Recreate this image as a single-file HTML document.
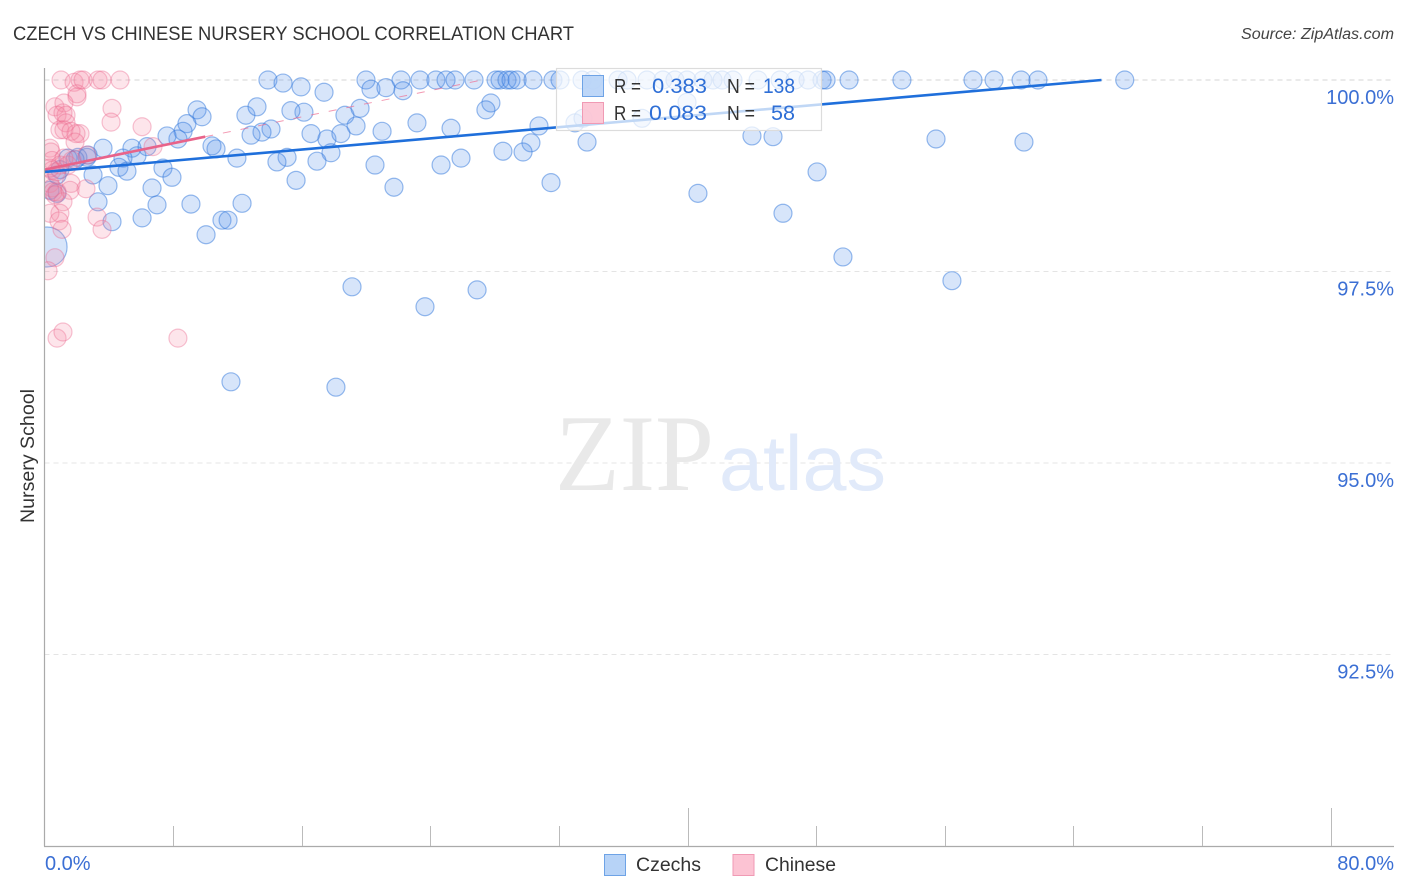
<!DOCTYPE html>
<html lang="en">
<head>
<meta charset="utf-8">
<title>Czech vs Chinese Nursery School Correlation Chart</title>
<style>
html,body{margin:0;padding:0;background:#fff;}
svg{display:block;font-family:"Liberation Sans",sans-serif;}
</style>
</head>
<body>
<svg id="chart" width="1406" height="892" viewBox="0 0 1406 892" xmlns="http://www.w3.org/2000/svg">
  <defs>
    <clipPath id="plot-clip"><rect x="44.5" y="66" width="1350" height="780"/></clipPath>
  </defs>
  <text x="13" y="40" font-size="19.5" fill="#333" textLength="561" lengthAdjust="spacingAndGlyphs">CZECH VS CHINESE NURSERY SCHOOL CORRELATION CHART</text>
  <text x="1241" y="39" font-size="15.5" font-style="italic" fill="#444" textLength="153" lengthAdjust="spacingAndGlyphs">Source: ZipAtlas.com</text>
  <g id="grid"></g>
  <g>
    <text x="555" y="490" font-family="'Liberation Serif',serif" font-size="109" fill="#e9e9e9" textLength="159" lengthAdjust="spacingAndGlyphs">ZIP</text>
    <text x="719" y="490" font-size="78" fill="#e1eafa" textLength="167" lengthAdjust="spacingAndGlyphs">atlas</text>
  </g>
  <g id="points" clip-path="url(#plot-clip)"></g>
  <g id="trends"></g>
  <g id="axes"></g>
  <text transform="translate(34,456) rotate(-90)" font-size="19" fill="#333" text-anchor="middle" textLength="134" lengthAdjust="spacingAndGlyphs">Nursery School</text>
  <g>
    <rect x="556.5" y="68.5" width="265" height="62" fill="#fff" fill-opacity="0.72" stroke="#dcdcdc" stroke-width="1.2"/>
    <rect x="582.5" y="75.5" width="21" height="21" fill="#b7d3f7" fill-opacity="0.9" stroke="#6ea3e6"/>
    <rect x="582.5" y="102.5" width="21" height="21" fill="#fcc3d3" fill-opacity="0.9" stroke="#f09ab4"/>
    <text x="614" y="93" font-size="20" fill="#333" textLength="27" lengthAdjust="spacingAndGlyphs">R =</text>
    <text x="652" y="93" font-size="21" fill="#2f6fd6" textLength="55" lengthAdjust="spacingAndGlyphs">0.383</text>
    <text x="727" y="93" font-size="20" fill="#333" textLength="28" lengthAdjust="spacingAndGlyphs">N =</text>
    <text x="763" y="93" font-size="21" fill="#2f6fd6" textLength="32" lengthAdjust="spacingAndGlyphs">138</text>
    <text x="614" y="120" font-size="20" fill="#333" textLength="27" lengthAdjust="spacingAndGlyphs">R =</text>
    <text x="649" y="120" font-size="21" fill="#2f6fd6" textLength="58" lengthAdjust="spacingAndGlyphs">0.083</text>
    <text x="727" y="120" font-size="20" fill="#333" textLength="28" lengthAdjust="spacingAndGlyphs">N =</text>
    <text x="771" y="120" font-size="21" fill="#2f6fd6" textLength="24" lengthAdjust="spacingAndGlyphs">58</text>
  </g>
  <g>
    <rect x="604.5" y="854.5" width="21" height="21" fill="#b7d3f7" stroke="#6ea3e6"/>
    <text x="636" y="871" font-size="19" fill="#333" textLength="65" lengthAdjust="spacingAndGlyphs">Czechs</text>
    <rect x="733" y="854.5" width="21" height="21" fill="#fcc3d3" stroke="#f09ab4"/>
    <text x="765" y="871" font-size="19" fill="#333" textLength="71" lengthAdjust="spacingAndGlyphs">Chinese</text>
  </g>
</svg>
<script>
var czechX = [13.90,20.00,22.18,23.36,24.35,24.98,25.54,26.72,28.09,28.34,28.77,29.02,29.40,30.39,31.63,32.07,33.44,34.12,35.68,36.24,37.48,38.47,39.22,39.97,40.96,41.59,42.15,42.83,44.39,45.76,46.69,47.50,48.37,48.62,50.05,53.34,57.76,59.07,60.75,61.80,67.20,
14.84,15.96,20.31,21.24,22.30,17.39,16.14,18.69,19.63,19.38,16.58,17.57,18.44,21.00,23.17,25.29,27.77,27.46,30.76,33.00,33.50,30.26,29.77,28.52,25.91,24.67,20.56,17.82,16.95,15.65,21.74,31.51,33.75,39.97,37.17,44.01,45.32,48.06,40.65,45.94,55.46,60.93,49.67,56.45,
9.49,9.80,8.86,8.62,8.30,7.62,12.53,13.22,15.33,14.09,13.53,12.85,10.42,10.67,11.97,15.09,14.46,3.64,5.44,5.75,4.88,6.38,7.37,7.93,4.63,5.13,3.02,3.95,6.69,7.00,3.33,4.20,6.07,9.11,12.29,11.04,11.42,10.05,19.13,23.67,26.91,11.60,18.13,
2.64,2.08,2.71,1.46,0.96,0.78,0.34,0.78,1.90];
var czechY = [100,100,100,100,100,100,100,100,100,100,100,100,100,100,100,100,100,100,100,100,100,100,100,100,100,100,100,100,100,100,100,100,100,100,100,100,100,100,100,100,100,
99.96,99.91,99.88,99.90,99.86,99.84,99.58,99.54,99.63,99.40,99.30,99.23,99.30,99.33,99.44,99.37,99.70,99.61,99.40,99.44,99.50,99.18,99.06,99.07,98.98,98.89,98.89,99.05,98.94,98.69,98.60,98.66,99.19,99.71,99.50,99.27,99.26,98.80,98.52,98.26,99.23,99.19,97.69,97.38,
99.61,99.52,99.43,99.33,99.23,99.27,99.54,99.65,99.60,99.36,99.32,99.28,99.14,99.10,98.98,98.99,98.93,99.11,99.11,99.01,98.98,99.13,98.85,98.73,98.86,98.81,98.76,98.62,98.59,98.37,98.41,98.15,98.20,98.38,98.39,98.17,98.17,97.98,97.30,97.04,97.26,96.06,95.99,
98.99,98.99,99.02,98.98,98.83,98.76,98.56,98.52,98.96];
var czechLargeX = [0.16];
var czechLargeY = [97.82];
var chineseX = [1.03,1.84,2.21,2.40,3.33,3.58,4.70,2.02,2.02,4.20,4.14,6.07,0.65,1.21,0.78,1.34,1.15,0.96,1.34,1.21,2.21,1.96,1.65,1.90,2.64,6.75,0.34,0.40,0.47,0.47,1.65,0.34,2.58,0.47,0.53,0.78,1.59,1.15,0.96,0.34,3.27,0.90,1.09,3.58,0.65,0.22,0.78,1.15,8.30,0.96,1.46,0.72,1.71,1.21,0.34,0.65];
var chineseY = [100,99.97,100,100,100,100,100,99.78,99.82,99.63,99.45,99.39,99.65,99.70,99.54,99.54,99.57,99.35,99.44,99.35,99.30,99.30,99.33,99.19,99.02,99.13,99.11,99.06,98.95,98.82,98.65,98.65,98.58,98.59,98.54,98.54,98.56,98.41,98.26,98.26,98.21,98.16,98.05,98.05,97.68,97.51,96.63,96.71,96.63,98.89,98.89,98.80,98.95,98.98,98.85,98.50];
var czechTrend = [0, 98.80, 0.01825];
var chineseTrend = [0, 98.83, 0.043];
var chineseSolidEnd = 10;
var chineseDashEnd = 27.5;
var yGridValues = [100, 97.5, 95, 92.5];
var yTickLabels = ['100.0%', '97.5%', '95.0%', '92.5%'];
var xTickValues = [0, 8, 16, 24, 32, 40, 48, 56, 64, 72, 80];
var xEndLabels = ['0.0%', '80.0%'];

var NS = 'http://www.w3.org/2000/svg';
function xScale(v) { return 44.5 + v * 16.075; }
function yScale(v) { return 80 + (100 - v) * 76.6; }
function make(parent, tag, attrs) {
  var el = document.createElementNS(NS, tag);
  for (var k in attrs) el.setAttribute(k, attrs[k]);
  parent.appendChild(el);
  return el;
}
var grid = document.getElementById('grid');
var axes = document.getElementById('axes');
var points = document.getElementById('points');
var trends = document.getElementById('trends');

yGridValues.forEach(function (v, i) {
  var y = yScale(v);
  var line = make(grid, 'line', { x1: 44.5, x2: 1394, y1: y, y2: y, stroke: i === 0 ? '#d4d4d4' : '#e4e4e4', 'stroke-width': 1, 'stroke-dasharray': '5 4' });
  
  
  var label = make(axes, 'text', { x: 1394, y: y + 24, 'font-size': 20, fill: '#3b6fd4', 'text-anchor': 'end' });
  label.textContent = yTickLabels[i];
  
  
});

var yAxisLine = make(axes, 'line', { x1: 44.5, x2: 44.5, y1: 68, y2: 846.5, stroke: '#aaa', 'stroke-width': 1.2 });


var xAxisLine = make(axes, 'line', { x1: 44, x2: 1394, y1: 846.5, y2: 846.5, stroke: '#aaa', 'stroke-width': 1.2 });



xTickValues.forEach(function (v, i) {
  if (i === 0) return;
  var x = Math.round(xScale(v)) + 0.5;
  var tall = i === 5 || i === 10;
  var tick = make(axes, 'line', { x1: x, x2: x, y1: tall ? 808 : 826, y2: 846, stroke: '#bbb', 'stroke-width': 1 });
  
  
});

var xLabelStart = make(axes, 'text', { x: 45, y: 870, 'font-size': 20, fill: '#3b6fd4' });
xLabelStart.textContent = xEndLabels[0];


var xLabelEnd = make(axes, 'text', { x: 1394, y: 870, 'font-size': 20, fill: '#3b6fd4', 'text-anchor': 'end' });
xLabelEnd.textContent = xEndLabels[1];



czechX.forEach(function (v, i) {
  var c = make(points, 'circle', { cx: xScale(v), cy: yScale(czechY[i]), r: 9, fill: 'rgba(86,148,235,0.24)', stroke: 'rgba(50,120,220,0.5)', 'stroke-width': 1.2 });
  
  
});
czechLargeX.forEach(function (v, i) {
  var c = make(points, 'circle', { cx: xScale(v), cy: yScale(czechLargeY[i]), r: 20, fill: 'rgba(86,148,235,0.24)', stroke: 'rgba(50,120,220,0.5)', 'stroke-width': 1.2 });
  
  
});
chineseX.forEach(function (v, i) {
  var c = make(points, 'circle', { cx: xScale(v), cy: yScale(chineseY[i]), r: 9, fill: 'rgba(245,135,165,0.22)', stroke: 'rgba(235,100,140,0.38)', 'stroke-width': 1.2 });
  
  
});

function trendValue(t, x) { return t[1] + t[2] * (x - t[0]); }
var chineseDash = make(trends, 'line', { x1: xScale(chineseSolidEnd), y1: yScale(trendValue(chineseTrend, chineseSolidEnd)), x2: xScale(chineseDashEnd), y2: yScale(trendValue(chineseTrend, chineseDashEnd)), stroke: '#ee6d92', 'stroke-width': 1, 'stroke-opacity': 0.7, 'stroke-dasharray': '8 10' });


var chineseSolid = make(trends, 'line', { x1: xScale(0), y1: yScale(trendValue(chineseTrend, 0)), x2: xScale(chineseSolidEnd), y2: yScale(trendValue(chineseTrend, chineseSolidEnd)), stroke: '#e8638a', 'stroke-width': 2.6 });


var czechEnd = (100 - czechTrend[1]) / czechTrend[2];
var czechLine = make(trends, 'line', { x1: xScale(0), y1: yScale(trendValue(czechTrend, 0)), x2: xScale(czechEnd), y2: yScale(100), stroke: '#1f6fdb', 'stroke-width': 2.6 });


</script>
</body>
</html>
